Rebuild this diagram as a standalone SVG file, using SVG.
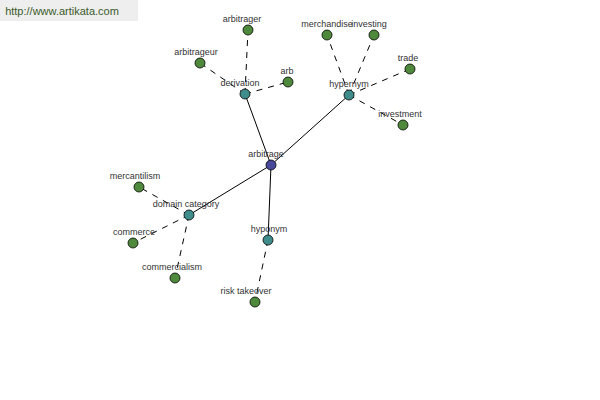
<svg xmlns="http://www.w3.org/2000/svg" width="600" height="400" viewBox="0 0 600 400">
<style>
text{font-family:"Liberation Sans",Arial,sans-serif;font-size:9px;fill:#333;text-anchor:middle}
.s{stroke:#000;stroke-width:1;fill:none}
.d{stroke:#000;stroke-width:1;fill:none;stroke-dasharray:6,6}
.leaf{fill:#4f8a3c;stroke:#000;stroke-width:0.8}
.rel{fill:#3f8c8c;stroke:#000;stroke-width:0.8}
.root{fill:#4a4a9c;stroke:#000;stroke-width:0.8}
</style>
<rect x="0" y="0" width="138" height="21" fill="#eeeeee"/>
<text x="62" y="15" style="font-size:11px;fill:#3a5a2a">http://www.artikata.com</text>
<g id="connectors">
<line class="s" x1="271" y1="165" x2="245" y2="94"/>
<line class="s" x1="271" y1="165" x2="349" y2="95"/>
<line class="s" x1="271" y1="165" x2="189" y2="215"/>
<line class="s" x1="271" y1="165" x2="268" y2="240"/>
<line class="d" x1="245" y1="94" x2="248" y2="30"/>
<line class="d" x1="245" y1="94" x2="200" y2="63"/>
<line class="d" x1="245" y1="94" x2="288" y2="82"/>
<line class="d" x1="349" y1="95" x2="327" y2="35"/>
<line class="d" x1="349" y1="95" x2="374" y2="35"/>
<line class="d" x1="349" y1="95" x2="410" y2="69"/>
<line class="d" x1="349" y1="95" x2="403" y2="125"/>
<line class="d" x1="189" y1="215" x2="139" y2="187"/>
<line class="d" x1="189" y1="215" x2="133" y2="243"/>
<line class="d" x1="189" y1="215" x2="175" y2="278"/>
<line class="d" x1="268" y1="240" x2="255" y2="302"/>
</g>
<g id="arbitrage"><circle class="root" cx="271" cy="165" r="5"/><text x="266" y="157">arbitrage</text></g>
<g id="derivation"><circle class="rel" cx="245" cy="94" r="5"/><text x="240" y="86">derivation</text></g>
<g id="hypernym"><circle class="rel" cx="349" cy="95" r="5"/><text x="349" y="87">hypernym</text></g>
<g id="domain-category"><circle class="rel" cx="189" cy="215" r="5"/><text x="186" y="207">domain category</text></g>
<g id="hyponym"><circle class="rel" cx="268" cy="240" r="5"/><text x="269" y="232">hyponym</text></g>
<g id="arbitrager"><circle class="leaf" cx="248" cy="30" r="5"/><text x="242" y="22">arbitrager</text></g>
<g id="arbitrageur"><circle class="leaf" cx="200" cy="63" r="5"/><text x="196" y="55">arbitrageur</text></g>
<g id="arb"><circle class="leaf" cx="288" cy="82" r="5"/><text x="287" y="74">arb</text></g>
<g id="merchandise"><circle class="leaf" cx="327" cy="35" r="5"/><text x="327" y="27">merchandise</text></g>
<g id="investing"><circle class="leaf" cx="374" cy="35" r="5"/><text x="369" y="27">investing</text></g>
<g id="trade"><circle class="leaf" cx="410" cy="69" r="5"/><text x="408" y="61">trade</text></g>
<g id="investment"><circle class="leaf" cx="403" cy="125" r="5"/><text x="400" y="117">investment</text></g>
<g id="mercantilism"><circle class="leaf" cx="139" cy="187" r="5"/><text x="135" y="179">mercantilism</text></g>
<g id="commerce"><circle class="leaf" cx="133" cy="243" r="5"/><text x="134" y="235">commerce</text></g>
<g id="commercialism"><circle class="leaf" cx="175" cy="278" r="5"/><text x="172" y="270">commercialism</text></g>
<g id="risk-takeover"><circle class="leaf" cx="255" cy="302" r="5"/><text x="246" y="294">risk takeover</text></g>
</svg>
